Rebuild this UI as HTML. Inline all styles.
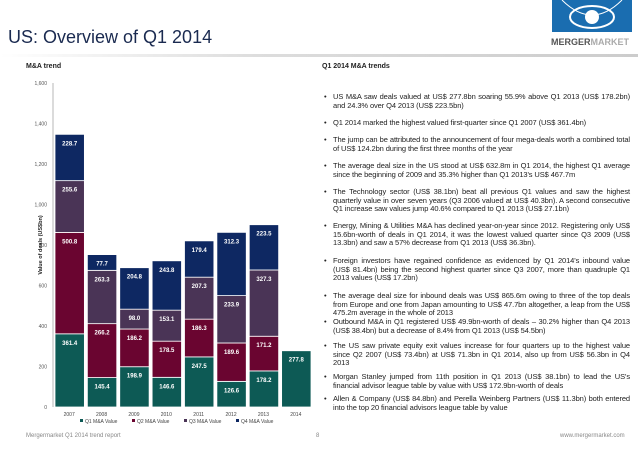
<!DOCTYPE html>
<html><head><meta charset="utf-8"><style>
body{margin:0;width:638px;height:452px;background:#fff;position:relative;overflow:hidden;font-family:"Liberation Sans",sans-serif}
.t{position:absolute}
.b{position:absolute;left:322px;width:308px;font-size:7.5px;line-height:8.6px;color:#222;text-align:justify;letter-spacing:-0.1px}
.b span.d{position:absolute;left:2px;top:0}
.b div{margin-left:11px}
</style></head><body>
<div class="t" style="left:8px;top:27px;font-size:18px;color:#1a2a50">US: Overview of Q1 2014</div>
<div class="t" style="left:0;top:54px;width:638px;height:3px;background:linear-gradient(90deg,#fff,#ddd 40%,#ccc)"></div>
<div class="t" style="left:552px;top:0;width:80px;height:32px;background:#1a6db0">
<svg width="80" height="32"><ellipse cx="40" cy="17" rx="22" ry="11" fill="none" stroke="#fff" stroke-width="2"/><circle cx="40" cy="17" r="7" fill="#fff"/><path d="M10 0 Q40 30 70 0" fill="none" stroke="#fff" stroke-width="1"/></svg></div>
<div class="t" style="left:551px;top:37px;font-size:9px;font-weight:bold;color:#555">MERGER<span style="color:#aaa">MARKET</span></div>
<div class="t" style="left:26px;top:63px;font-size:7px;font-weight:bold;color:#222">M&amp;A trend</div>
<div class="t" style="left:322px;top:63px;font-size:7px;font-weight:bold;color:#222">Q1 2014 M&amp;A trends</div>
<svg class="t" style="left:0;top:0" width="320" height="452" id="chart"></svg>
<div class="b" style="top:93px"><span class="d">•</span><div>US M&amp;A saw deals valued at US$ 277.8bn soaring 55.9% above Q1 2013 (US$ 178.2bn) and 24.3% over Q4 2013 (US$ 223.5bn)</div></div>
<div class="b" style="top:119px"><span class="d">•</span><div>Q1 2014 marked the highest valued first-quarter since Q1 2007 (US$ 361.4bn)</div></div>
<div class="b" style="top:136px"><span class="d">•</span><div>The jump can be attributed to the announcement of four mega-deals worth a combined total of US$ 124.2bn during the first three months of the year</div></div>
<div class="b" style="top:162px"><span class="d">•</span><div>The average deal size in the US stood at US$ 632.8m in Q1 2014, the highest Q1 average since the beginning of 2009 and 35.3% higher than Q1 2013's US$ 467.7m</div></div>
<div class="b" style="top:188px"><span class="d">•</span><div>The Technology sector (US$ 38.1bn) beat all previous Q1 values and saw the highest quarterly value in over seven years (Q3 2006 valued at US$ 40.3bn). A second consecutive Q1 increase saw values jump 40.6% compared to Q1 2013 (US$ 27.1bn)</div></div>
<div class="b" style="top:222px"><span class="d">•</span><div>Energy, Mining &amp; Utilities M&amp;A has declined year-on-year since 2012. Registering only US$ 15.6bn-worth of deals in Q1 2014, it was the lowest valued quarter since Q3 2009 (US$ 13.3bn) and saw a 57% decrease from Q1 2013 (US$ 36.3bn).</div></div>
<div class="b" style="top:257px"><span class="d">•</span><div>Foreign investors have regained confidence as evidenced by Q1 2014's inbound value (US$ 81.4bn) being the second highest quarter since Q3 2007, more than quadruple Q1 2013 values (US$ 17.2bn)</div></div>
<div class="b" style="top:292px"><span class="d">•</span><div>The average deal size for inbound deals was US$ 865.6m owing to three of the top deals from Europe and one from Japan amounting to US$ 47.7bn altogether, a leap from the US$ 475.2m average in the whole of 2013</div></div>
<div class="b" style="top:318px"><span class="d">•</span><div>Outbound M&amp;A in Q1 registered US$ 49.9bn-worth of deals – 30.2% higher than Q4 2013 (US$ 38.4bn) but a decrease of 8.4% from Q1 2013 (US$ 54.5bn)</div></div>
<div class="b" style="top:342px"><span class="d">•</span><div>The US saw private equity exit values increase for four quarters up to the highest value since Q2 2007 (US$ 73.4bn) at US$ 71.3bn in Q1 2014, also up from US$ 56.3bn in Q4 2013</div></div>
<div class="b" style="top:373px"><span class="d">•</span><div>Morgan Stanley jumped from 11th position in Q1 2013 (US$ 38.1bn) to lead the US's financial advisor league table by value with US$ 172.9bn-worth of deals</div></div>
<div class="b" style="top:395px"><span class="d">•</span><div>Allen &amp; Company (US$ 84.8bn) and Perella Weinberg Partners (US$ 11.3bn) both entered into the top 20 financial advisors league table by value</div></div>
<div class="t" style="left:26px;top:433px;font-size:6px;color:#888">Mergermarket Q1 2014 trend report</div>
<div class="t" style="left:316px;top:433px;font-size:6px;color:#888">8</div>
<div class="t" style="left:560px;top:433px;font-size:6px;color:#888">www.mergermarket.com</div>
<script>
const years=["2007","2008","2009","2010","2011","2012","2013","2014"];
const q1=[361.4,145.4,198.9,146.6,247.5,126.6,178.2,277.8];
const q2=[500.8,266.2,186.2,178.5,186.3,189.6,171.2,null];
const q3=[255.6,263.3,98.0,153.1,207.3,233.9,327.3,null];
const q4=[228.7,77.7,204.8,243.8,179.4,312.3,223.5,null];
const yTicks=[0,200,400,600,800,1000,1200,1400,1600];
const seriesNames=["Q1 M&A Value","Q2 M&A Value","Q3 M&A Value","Q4 M&A Value"];
const colors=["#0d5a55","#6a0530","#4a3456","#0e2862"];
const svg=document.getElementById('chart');const NS="http://www.w3.org/2000/svg";
const x0=53,x1=312,y0=407,y1=83;
const ys=v=>y0-(v/1600)*(y0-y1);
const band=(x1-x0)/years.length;
const xs=i=>x0+band*i;
function mk(t,a,txt){const e=document.createElementNS(NS,t);for(const k in a)e.setAttribute(k,a[k]);if(txt!=null)e.textContent=txt;svg.appendChild(e);return e;}
yTicks.forEach(v=>{const e=mk('text',{x:x0-6,y:ys(v)+2,'font-size':5,'text-anchor':'end',fill:'#555'},v.toLocaleString('en-US'));

});
const ax=mk('line',{x1:x0,y1:y1,x2:x0,y2:y0,stroke:'#999','stroke-width':0.7});


const t=mk('text',{x:0,y:0,'font-size':5.5,'font-weight':'bold','text-anchor':'middle',fill:'#222',transform:`translate(42,245) rotate(-90)`},'Value of deals (US$bn)');


const series=[q1,q2,q3,q4];
years.forEach((yr,i)=>{let cum=0;const bx=xs(i)+2;const bw=band-3;
series.forEach((s,k)=>{const v=s[i];if(v==null)return;
const r=mk('rect',{x:bx,y:ys(cum+v),width:bw,height:ys(cum)-ys(cum+v),fill:colors[k],stroke:'#fff','stroke-width':0.8});


const l=mk('text',{x:bx+bw/2,y:ys(cum+v)+11,'font-size':6,'font-weight':'bold','text-anchor':'middle',fill:'#fff'},v.toFixed(1));


cum+=v;});
const xl=mk('text',{x:xs(i)+band/2,y:y0+9,'font-size':5,'text-anchor':'middle',fill:'#444'},yr);

});
seriesNames.forEach((n,k)=>{const lx=80+k*52;
const r=mk('rect',{x:lx,y:419,width:3,height:3,fill:colors[k]});


const e=mk('text',{x:lx+5,y:423,'font-size':5,fill:'#444'},n);

});
</script>
</body></html>
